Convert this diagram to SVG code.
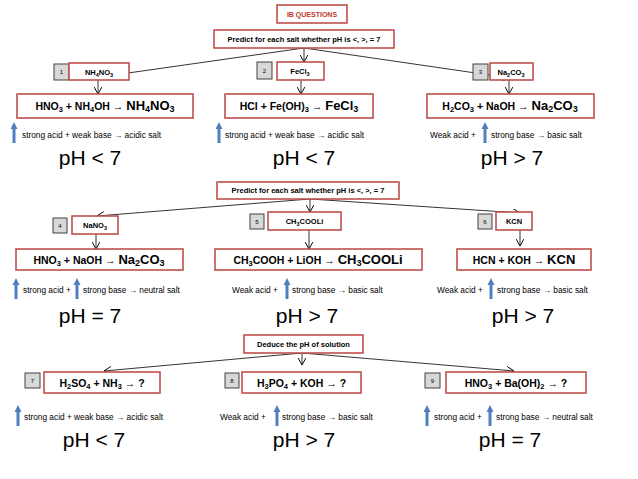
<svg xmlns="http://www.w3.org/2000/svg" width="638" height="479" viewBox="0 0 638 479">
<style>
.box{fill:#fff;stroke:#c0504d;stroke-width:1.6}
.num{fill:#d8d8d8;stroke:#404040;stroke-width:1}
.t{font-family:"Liberation Sans",Arial,sans-serif;fill:#000}
.s{font-size:7.5px;font-weight:bold}
.n{font-size:6px}
.eq{font-size:10.5px;font-weight:bold}
.an{font-size:8.3px}
.ph{font-size:21px}
.c{fill:none;stroke:#000;stroke-width:0.8}
.ba{fill:#4f7fbf}
</style>
<defs>
<marker id="ah" viewBox="0 0 10 10" refX="9" refY="5" markerWidth="8" markerHeight="8" orient="auto" markerUnits="userSpaceOnUse"><path d="M0,0 L9,5 L0,10" fill="none" stroke="#000" stroke-width="1.2"/></marker>
<path id="up" class="ba" d="M0,0 L3.5,7 L1.5,7 L1.5,21 L-1.5,21 L-1.5,7 L-3.5,7 Z"/>
</defs>

<g id="connectors">
<path class="c" d="M304,48 L100,77" marker-end="url(#ah)"/>
<path class="c" d="M304,48 L304,62" marker-end="url(#ah)"/>
<path class="c" d="M304,48 L510,78" marker-end="url(#ah)"/>
<path class="c" d="M98,80 L98,94" marker-end="url(#ah)"/>
<path class="c" d="M301,80 L301,94" marker-end="url(#ah)"/>
<path class="c" d="M509,80 L509,94" marker-end="url(#ah)"/>
<path class="c" d="M310,199 L97,216" marker-end="url(#ah)"/>
<path class="c" d="M310,199 L310,212" marker-end="url(#ah)"/>
<path class="c" d="M310,199 L520,213" marker-end="url(#ah)"/>
<path class="c" d="M96,234 L96,249" marker-end="url(#ah)"/>
<path class="c" d="M309,230 L309,249" marker-end="url(#ah)"/>
<path class="c" d="M520,230 L520,246" marker-end="url(#ah)"/>
<path class="c" d="M302,353 L104,371" marker-end="url(#ah)"/>
<path class="c" d="M302,353 L302,365" marker-end="url(#ah)"/>
<path class="c" d="M302,353 L514,371" marker-end="url(#ah)"/>
</g>

<g id="ib"><rect class="box" x="277" y="5" width="70" height="18"/><text class="t s" x="312" y="17" text-anchor="middle" style="fill:#c0392b;font-size:7px">IB QUESTIONS</text></g>
<g id="predict1"><rect class="box" x="214" y="30" width="180" height="18"/><text class="t s" x="304" y="42" text-anchor="middle">Predict for each salt whether pH is &lt;, &gt;, = 7</text></g>

<g id="n1"><rect class="num" x="54" y="64" width="15" height="16"/><text class="t n" x="61.5" y="74" text-anchor="middle">1</text>
<rect class="box" x="69" y="63" width="60" height="17"/><text class="t s" x="99" y="75" text-anchor="middle">NH<tspan dy="2" font-size="5.5">4</tspan><tspan dy="-2">NO</tspan><tspan dy="2" font-size="5.5">3</tspan></text></g>
<g id="n2"><rect class="num" x="257" y="62" width="15" height="17"/><text class="t n" x="264.5" y="73" text-anchor="middle">2</text>
<rect class="box" x="277" y="62" width="47" height="18"/><text class="t s" x="300" y="74" text-anchor="middle">FeCl<tspan dy="2" font-size="5.5">3</tspan></text></g>
<g id="n3"><rect class="num" x="473" y="64" width="15" height="16"/><text class="t n" x="480.5" y="74" text-anchor="middle">3</text>
<rect class="box" x="490" y="63" width="43" height="17"/><text class="t s" x="511" y="75" text-anchor="middle">Na<tspan dy="2" font-size="5.5">2</tspan><tspan dy="-2">CO</tspan><tspan dy="2" font-size="5.5">3</tspan></text></g>

<g id="eq1"><rect class="box" x="17" y="94" width="176" height="24"/><text class="t eq" x="105" y="110" text-anchor="middle">HNO<tspan dy="2" font-size="7.5">3</tspan><tspan dy="-2"> + NH</tspan><tspan dy="2" font-size="7.5">4</tspan><tspan dy="-2">OH →  </tspan><tspan font-size="13">NH</tspan><tspan dy="2" font-size="9">4</tspan><tspan dy="-2" font-size="13">NO</tspan><tspan dy="2" font-size="9">3</tspan></text></g>
<g id="eq2"><rect class="box" x="225" y="94" width="148" height="24"/><text class="t eq" x="299" y="110" text-anchor="middle">HCl + Fe(OH)<tspan dy="2" font-size="7.5">3</tspan><tspan dy="-2"> → </tspan><tspan font-size="13">FeCl</tspan><tspan dy="2" font-size="9">3</tspan></text></g>
<g id="eq3"><rect class="box" x="427" y="94" width="167" height="24"/><text class="t eq" x="510" y="110" text-anchor="middle">H<tspan dy="2" font-size="7.5">2</tspan><tspan dy="-2">CO</tspan><tspan dy="2" font-size="7.5">3</tspan><tspan dy="-2"> +  NaOH → </tspan><tspan font-size="13">Na</tspan><tspan dy="2" font-size="9">2</tspan><tspan dy="-2" font-size="13">CO</tspan><tspan dy="2" font-size="9">3</tspan></text></g>

<g id="ann1">
<use href="#up" x="14" y="122"/><text class="t an" x="22" y="138">strong acid +  weak base → acidic salt</text>
<use href="#up" x="219" y="122"/><text class="t an" x="225" y="138">strong acid + weak base → acidic salt</text>
<text class="t an" x="430" y="138">Weak acid   +</text><use href="#up" x="485" y="122"/><text class="t an" x="491" y="138">strong base → basic salt</text>
<text class="t ph" x="90" y="165" text-anchor="middle">pH &lt; 7</text>
<text class="t ph" x="304" y="165" text-anchor="middle">pH &lt; 7</text>
<text class="t ph" x="512" y="165" text-anchor="middle">pH &gt; 7</text>
</g>

<g id="predict2"><rect class="box" x="217" y="182" width="182" height="17"/><text class="t s" x="308" y="193" text-anchor="middle">Predict for each salt whether pH is &lt;, &gt;, = 7</text></g>
<g id="n4"><rect class="num" x="53" y="218" width="14" height="15"/><text class="t n" x="60" y="228" text-anchor="middle">4</text>
<rect class="box" x="72" y="216" width="46" height="18"/><text class="t s" x="95" y="228" text-anchor="middle">NaNO<tspan dy="2" font-size="5.5">3</tspan></text></g>
<g id="n5"><rect class="num" x="250" y="214" width="14" height="15"/><text class="t n" x="257" y="224" text-anchor="middle">5</text>
<rect class="box" x="268" y="212" width="73" height="18"/><text class="t s" x="304.5" y="224" text-anchor="middle">CH<tspan dy="2" font-size="5.5">3</tspan><tspan dy="-2">COOLi</tspan></text></g>
<g id="n6"><rect class="num" x="478" y="214" width="14" height="15"/><text class="t n" x="485" y="224" text-anchor="middle">6</text>
<rect class="box" x="496" y="212" width="36" height="18"/><text class="t s" x="514" y="224" text-anchor="middle">KCN</text></g>

<g id="eq4"><rect class="box" x="16" y="249" width="167" height="21"/><text class="t eq" x="99" y="264" text-anchor="middle">HNO<tspan dy="2" font-size="7.5">3</tspan><tspan dy="-2"> +  NaOH → </tspan><tspan font-size="13">Na</tspan><tspan dy="2" font-size="9">2</tspan><tspan dy="-2" font-size="13">CO</tspan><tspan dy="2" font-size="9">3</tspan></text></g>
<g id="eq5"><rect class="box" x="215" y="249" width="207" height="21"/><text class="t eq" x="318" y="264" text-anchor="middle">CH<tspan dy="2" font-size="7.5">3</tspan><tspan dy="-2">COOH  + LiOH → </tspan><tspan font-size="13">CH</tspan><tspan dy="2" font-size="9">3</tspan><tspan dy="-2" font-size="13">COOLi</tspan></text></g>
<g id="eq6"><rect class="box" x="457" y="249" width="134" height="21"/><text class="t eq" x="524" y="264" text-anchor="middle">HCN  + KOH → <tspan font-size="13">KCN</tspan></text></g>

<g id="ann2">
<use href="#up" x="16" y="278"/><text class="t an" x="23" y="293">strong acid +</text><use href="#up" x="77" y="278"/><text class="t an" x="83" y="293">strong base → neutral salt</text>
<text class="t an" x="232" y="293">Weak acid   +</text><use href="#up" x="287" y="278"/><text class="t an" x="292" y="293">strong base → basic salt</text>
<text class="t an" x="437" y="293">Weak acid   +</text><use href="#up" x="491" y="278"/><text class="t an" x="497" y="293">strong base → basic salt</text>
<text class="t ph" x="90" y="323" text-anchor="middle">pH = 7</text>
<text class="t ph" x="307" y="323" text-anchor="middle">pH &gt; 7</text>
<text class="t ph" x="523" y="323" text-anchor="middle">pH &gt; 7</text>
</g>

<g id="deduce"><rect class="box" x="244" y="335" width="119" height="18"/><text class="t s" x="303.5" y="347" text-anchor="middle">Deduce the pH of solution</text></g>
<g id="q7"><rect class="num" x="25" y="373" width="15" height="15"/><text class="t n" x="32.5" y="383" text-anchor="middle">7</text>
<rect class="box" x="44" y="372" width="116" height="21"/><text class="t eq" x="102" y="387" text-anchor="middle">H<tspan dy="2" font-size="7.5">2</tspan><tspan dy="-2">SO</tspan><tspan dy="2" font-size="7.5">4</tspan><tspan dy="-2"> + NH</tspan><tspan dy="2" font-size="7.5">3</tspan><tspan dy="-2"> → ?</tspan></text></g>
<g id="q8"><rect class="num" x="225" y="373" width="14" height="15"/><text class="t n" x="232" y="383" text-anchor="middle">8</text>
<rect class="box" x="242" y="372" width="119" height="21"/><text class="t eq" x="301.5" y="387" text-anchor="middle">H<tspan dy="2" font-size="7.5">3</tspan><tspan dy="-2">PO</tspan><tspan dy="2" font-size="7.5">4</tspan><tspan dy="-2"> + KOH → ?</tspan></text></g>
<g id="q9"><rect class="num" x="425" y="373" width="15" height="15"/><text class="t n" x="432.5" y="383" text-anchor="middle">9</text>
<rect class="box" x="446" y="372" width="140" height="21"/><text class="t eq" x="516" y="387" text-anchor="middle">HNO<tspan dy="2" font-size="7.5">3</tspan><tspan dy="-2"> + Ba(OH)</tspan><tspan dy="2" font-size="7.5">2</tspan><tspan dy="-2"> → ?</tspan></text></g>

<g id="ann3">
<use href="#up" x="18" y="405"/><text class="t an" x="24" y="420">strong acid +  weak base → acidic salt</text>
<text class="t an" x="220" y="420">Weak acid   +</text><use href="#up" x="277" y="405"/><text class="t an" x="282" y="420">strong base → basic salt</text>
<use href="#up" x="427" y="405"/><text class="t an" x="434" y="420">strong acid +</text><use href="#up" x="490" y="405"/><text class="t an" x="496" y="420">strong base → neutral salt</text>
<text class="t ph" x="94" y="447" text-anchor="middle">pH &lt; 7</text>
<text class="t ph" x="304" y="447" text-anchor="middle">pH &gt; 7</text>
<text class="t ph" x="510" y="447" text-anchor="middle">pH = 7</text>
</g>
</svg>
